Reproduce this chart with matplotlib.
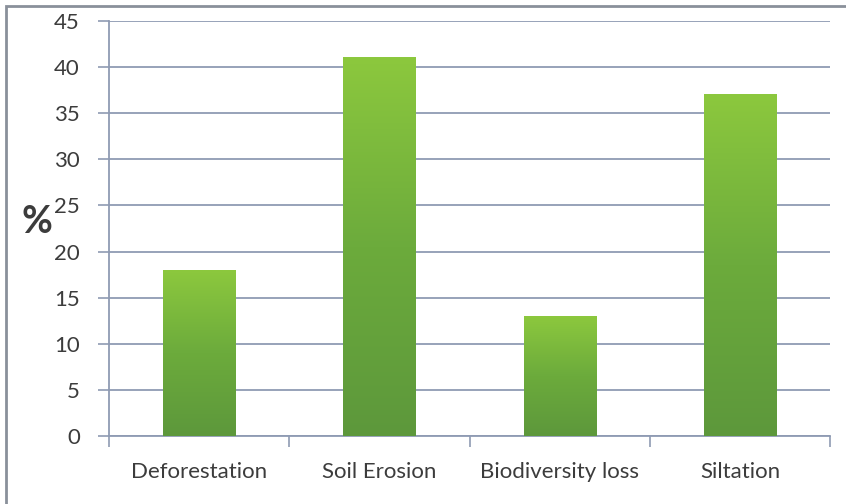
#!/usr/bin/env python3

import numpy as np
import matplotlib
matplotlib.use("Agg")
import matplotlib.pyplot as plt
from matplotlib.colors import LinearSegmentedColormap
from matplotlib.patches import Rectangle

# Data
categories = ["Deforestation", "Soil Erosion", "Biodiversity loss", "Siltation"]
values = [18, 41, 13, 37]
y_ticks = [0, 5, 10, 15, 20, 25, 30, 35, 40, 45]

plt.rcParams['font.family'] = ['Lato', 'DejaVu Sans']

grid_col = '#8f9bb3'
text_col = '#3c3c3c'

fig = plt.figure(figsize=(8.46, 5.04), dpi=100)
ax = fig.add_axes([109 / 846, 1 - 436 / 504, (830 - 109) / 846, (436 - 21) / 504])

# green gradient, light on top, darker at base
cmap = LinearSegmentedColormap.from_list(
    'bar_green', ['#5d983b', '#6cab3c', '#8cc83e'])
grad = np.linspace(0, 1, 256).reshape(-1, 1)

x = np.arange(len(categories))
bar_w = 0.4
for xi, v in zip(x, values):
    ax.imshow(grad, extent=[xi - bar_w / 2, xi + bar_w / 2, 0, v],
              origin='lower', cmap=cmap, aspect='auto', zorder=3,
              interpolation='bilinear')

ax.set_xlim(-0.5, len(categories) - 0.5)
ax.set_ylim(0, 45)

ax.set_yticks(y_ticks)
ax.set_yticklabels([str(t) for t in y_ticks])
ax.yaxis.grid(True, color=grid_col, linewidth=1.3, zorder=0)
ax.set_axisbelow(True)

# x ticks at the category boundaries, labels centered on bars
ax.set_xticks(np.arange(-0.5, len(categories), 1.0))
ax.set_xticklabels([])
ax.set_xticks(x, minor=True)
ax.set_xticklabels(categories, minor=True)
ax.tick_params(axis='x', which='minor', length=0, pad=19,
               labelsize=16, labelcolor=text_col)
ax.tick_params(axis='x', which='major', length=8, width=1.2, color=grid_col)
ax.tick_params(axis='y', length=8, width=1.2, color=grid_col, pad=13,
               labelsize=16, labelcolor=text_col)

for side in ['top', 'right']:
    ax.spines[side].set_visible(False)
for side in ['left', 'bottom']:
    ax.spines[side].set_color(grid_col)
    ax.spines[side].set_linewidth(1.3)

fig.text(37 / 846, 1 - 222 / 504, '%', fontsize=27, fontweight='bold',
         color=text_col, ha='center', va='center')

# outer frame of the chart area (cut off at right and bottom)
fig.patches.append(Rectangle((6 / 846, -0.05), 1.0, 1 - 6 / 504 + 0.05,
                             transform=fig.transFigure, fill=False,
                             edgecolor='#8a909a', linewidth=2))

fig.savefig('out.png', dpi=100)
